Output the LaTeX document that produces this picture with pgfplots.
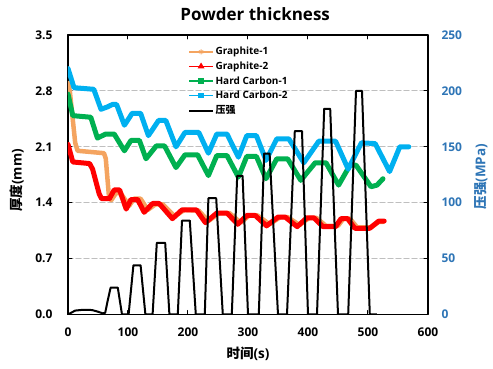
\documentclass[border=0pt]{standalone}
\usepackage{fontspec}
\setmainfont{Open Sans}
\newfontfamily\cjk{Noto Sans CJK SC}
\usepackage{pgfplots}
\pgfplotsset{compat=1.18}
\definecolor{cOrange}{HTML}{F4A460}
\definecolor{cRed}{HTML}{FF0000}
\definecolor{cGreen}{HTML}{00B050}
\definecolor{cBlue}{HTML}{00B0F0}
\definecolor{axblue}{HTML}{2E75B6}
\definecolor{gridgray}{HTML}{BFBFBF}
\newcommand\tickfont{\bfseries\fontsize{12}{13}\selectfont}
\newcommand\labfont{\bfseries\fontsize{13.5}{14}\selectfont}
\newcommand\legfont{\bfseries\fontsize{10}{11}\selectfont}
\newcommand\titfont{\bfseries\fontsize{17}{18}\selectfont}
\begin{document}
\begin{tikzpicture}
\useasboundingbox (-68pt,-54.5pt) rectangle (425pt,314.5pt);
\begin{axis}[
  at={(0pt,0pt)}, anchor=south west,
  width=360pt, height=279.5pt, scale only axis,
  xmin=0, xmax=600, ymin=0, ymax=3.5,
  xtick={0,100,200,300,400,500,600},
  xticklabels={0,100,200,300,400,500,600},
  ytick={0,0.7,1.4,2.1,2.8,3.5},
  yticklabels={0.0,0.7,1.4,2.1,2.8,3.5},
  ymajorgrids,
  major grid style={dash pattern=on 5pt off 3pt, line width=1.2pt, color=gridgray},
  tick align=inside, major tick length=4pt,
  tick style={black, line width=1pt},
  axis line style={line width=1.6pt},
  xticklabel style={font=\tickfont, yshift=-10pt},
  yticklabel style={font=\tickfont, xshift=-12pt},
  title={Powder thickness},
  title style={font=\titfont, at={(axis description cs:0.52,1.029)}, anchor=base},
  xlabel={{\cjk 时间}(s)},
  xlabel style={font=\labfont, at={(axis description cs:0.5,-0.141)}, anchor=center},
  ylabel={{\cjk 厚度}(mm)},
  ylabel style={font=\labfont, at={(axis description cs:-0.142,0.48)}, anchor=center},
  line join=round, line cap=round,
]
% Graphite-1
\addplot[cOrange, line width=4.5pt] coordinates {
(0,2.9) (3,2.8) (12,2.15) (16,2.05) (60,2.02) (63,1.95) (68,1.5) (72,1.43)
(80,1.52) (88,1.52) (102,1.36) (110,1.45) (121,1.45) (133,1.31) (146,1.38) (158,1.38)
(178,1.23) (194,1.31) (218,1.3) (234,1.17) (252,1.27) (269,1.27) (288,1.15) (302,1.24)
(316,1.24) (336,1.13) (354,1.22) (366,1.22) (386,1.12) (402,1.21) (414,1.21) (430,1.11)
(450,1.11) (459,1.2) (470,1.2) (482,1.09) (505,1.09) (518,1.16) (525,1.16)};
% Graphite-2
\addplot[cRed, line width=5pt] coordinates {
(0,2.13) (8,1.91) (36,1.89) (41,1.82) (52,1.51) (56,1.45) (69,1.45) (77,1.56) (86,1.56)
(97,1.32) (105,1.44) (116,1.44) (127,1.28) (141,1.39) (152,1.39) (174,1.2) (190,1.31)
(214,1.31) (229,1.15) (248,1.27) (265,1.27) (283,1.13) (298,1.24) (312,1.24) (331,1.11)
(350,1.22) (362,1.22) (382,1.10) (398,1.21) (410,1.21) (425,1.10) (446,1.10) (455,1.20)
(466,1.20) (478,1.08) (503,1.08) (518,1.17) (527,1.17)};
% Hard Carbon-1
\addplot[cGreen, line width=5pt] coordinates {
(0,2.76) (8,2.49) (38,2.47) (49,2.21) (63,2.26) (77,2.26) (94,2.05) (105,2.18) (119,2.18)
(130,1.95) (147,2.11) (161,2.11) (180,1.84) (195,2.0) (216,2.0) (234,1.74) (248,1.99)
(265,1.99) (284,1.72) (298,1.98) (314,1.98) (330,1.70) (348,1.95) (366,1.95) (388,1.68)
(412,1.9) (430,1.9) (451,1.62) (470,1.87) (480,1.87) (505,1.60) (515,1.62) (525,1.70)};
% Hard Carbon-2
\addplot[cBlue, line width=5pt] coordinates {
(0,3.08) (10,2.84) (43,2.82) (55,2.57) (66,2.6) (74,2.63) (81,2.63) (94,2.37) (107,2.52)
(121,2.52) (134,2.24) (151,2.43) (163,2.43) (180,2.1) (195,2.28) (218,2.28) (234,2.02)
(248,2.26) (265,2.26) (284,1.97) (298,2.24) (314,2.24) (330,1.93) (348,2.2) (368,2.2)
(393,1.9) (418,2.17) (446,2.17) (467,1.82) (489,2.15) (512,2.14) (536,1.79) (553,2.1) (568,2.1)};
\end{axis}
\begin{axis}[
  at={(0pt,0pt)}, anchor=south west,
  width=360pt, height=279.5pt, scale only axis,
  xmin=0, xmax=600, ymin=0, ymax=250,
  axis y line*=right, axis x line=none,
  ytick={0,50,100,150,200,250},
  yticklabels={0,50,100,150,200,250},
  tick align=inside, major tick length=4pt,
  tick style={black, line width=1pt},
  axis line style={line width=1.6pt},
  yticklabel style={font=\tickfont, color=axblue, anchor=west, xshift=10pt},
  ylabel={{\cjk 压强}(MPa)},
  ylabel style={font=\labfont, color=axblue, at={(axis description cs:1.147,0.493)}, anchor=center},
  legend style={at={(0.333,0.962)}, anchor=north west, draw=none, fill=none,
    font=\legfont, inner sep=0pt, row sep=2.5pt, nodes={inner sep=1.5pt}},
  legend cell align=left,
  legend image code/.code={\draw[mark repeat=2,mark phase=2,#1] plot coordinates {(0pt,0pt) (12pt,0pt) (24pt,0pt)};},
]
\addlegendimage{cOrange, line width=1.5pt, mark=asterisk, mark size=2.5pt, mark options={line width=1pt}}
\addlegendimage{cRed, line width=1.5pt, mark=triangle*, mark size=2.5pt}
\addlegendimage{cGreen, line width=1.5pt, mark=square*, mark size=2pt}
\addlegendimage{cBlue, line width=1.5pt, mark=square*, mark size=2pt}
\addplot[black, line width=2pt, line join=round] coordinates {
(0,0) (5,1.5) (12,3.5) (25,4.2) (40,4) (50,2.5) (58,1) (62,1.5) (66,12) (71,24) (83,24)
(90,0) (101,0) (109,44) (121,44) (129,0) (141,0) (148,64) (162,64) (169,0) (183,0)
(190,84) (203,84) (213,0) (228,0) (234,104) (247,104) (258,0) (273,0) (282,124) (291,124)
(300,0) (318,0) (327,144) (336,144) (350,0) (365,0) (378,164) (390,164) (400,0) (415,0)
(427,184) (437,184) (450,0) (467,0) (480,200) (490,200) (503,0) (515,0)};
\legend{Graphite-1, Graphite-2, Hard Carbon-1, Hard Carbon-2, {\cjk 压强}}
\end{axis}
\end{tikzpicture}
\end{document}
